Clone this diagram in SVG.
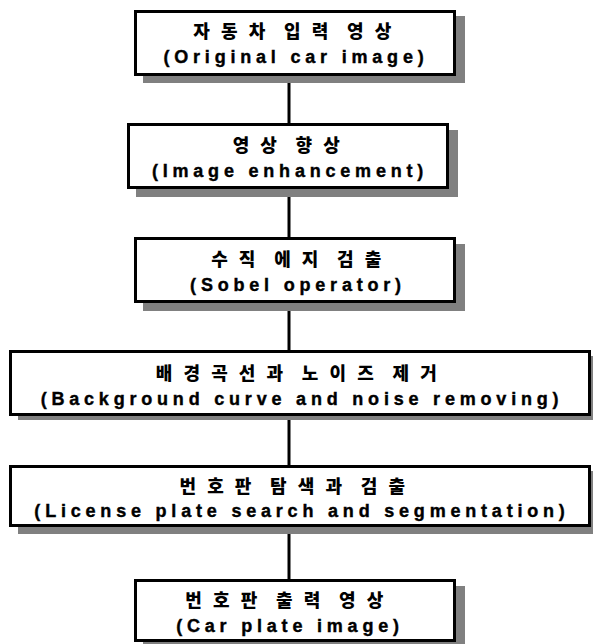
<svg xmlns="http://www.w3.org/2000/svg" width="593" height="644" viewBox="0 0 593 644">
<style>
.sh{fill:#808080}
.bx{fill:#fff;stroke:#000;stroke-width:3}
.ko{font-family:"Noto Sans CJK KR","Liberation Sans",sans-serif;font-weight:900;font-size:18px;letter-spacing:3.5px;text-anchor:middle}
.en{font-family:"Liberation Sans","Arial",sans-serif;font-weight:bold;font-size:18px;letter-spacing:4.8px;text-anchor:middle;stroke:#000;stroke-width:0.4}
.cn{stroke:#000;stroke-width:3;fill:none}
</style>
<rect width="593" height="644" fill="#fff"/>
<g id="connectors">
<line class="cn" x1="289" y1="76" x2="289" y2="123"/>
<line class="cn" x1="289" y1="189" x2="289" y2="237"/>
<line class="cn" x1="289" y1="303" x2="289" y2="350"/>
<line class="cn" x1="289" y1="416" x2="289" y2="465"/>
<line class="cn" x1="289" y1="526" x2="289" y2="579"/>
</g>
<g id="n1">
<rect class="sh" x="143" y="16" width="322" height="67"/>
<rect class="bx" x="135.5" y="11.5" width="319" height="63"/>
<text class="ko" x="294" y="38">자 동 차 &#160;입 력 &#160;영 상</text>
<text class="en" x="296" y="63">(Original car image)</text>
</g>
<g id="n2">
<rect class="sh" x="136" y="130" width="322" height="67"/>
<rect class="bx" x="128.5" y="124.5" width="319" height="63"/>
<text class="ko" x="288" y="152">영 상 &#160;향 상</text>
<text class="en" x="290" y="177">(Image enhancement)</text>
</g>
<g id="n3">
<rect class="sh" x="143" y="244" width="322" height="67"/>
<rect class="bx" x="135.5" y="238.5" width="319" height="63"/>
<text class="ko" x="298" y="266">수 직 &#160;에 지 &#160;검 출</text>
<text class="en" x="298" y="291">(Sobel operator)</text>
</g>
<g id="n4">
<rect class="sh" x="18" y="356" width="582" height="64"/>
<rect class="bx" x="10.5" y="351.5" width="579" height="63"/>
<text class="ko" x="298" y="380">배 경 곡 선 과 &#160;노 이 즈 &#160;제 거</text>
<text class="en" x="302" y="405">(Background curve and noise removing)</text>
</g>
<g id="n5">
<rect class="sh" x="18" y="471" width="582" height="63"/>
<rect class="bx" x="10.5" y="466.5" width="579" height="59"/>
<text class="ko" x="294" y="493">번 호 판 &#160;탐 색 과 &#160;검 출</text>
<text class="en" x="302" y="517">(License plate search and segmentation)</text>
</g>
<g id="n6">
<rect class="sh" x="143" y="586" width="322" height="62"/>
<rect class="bx" x="135.5" y="580.5" width="319" height="60"/>
<text class="ko" x="286" y="607">번 호 판 &#160;출 력 &#160;영 상</text>
<text class="en" x="290" y="632">(Car plate image)</text>
</g>
</svg>
